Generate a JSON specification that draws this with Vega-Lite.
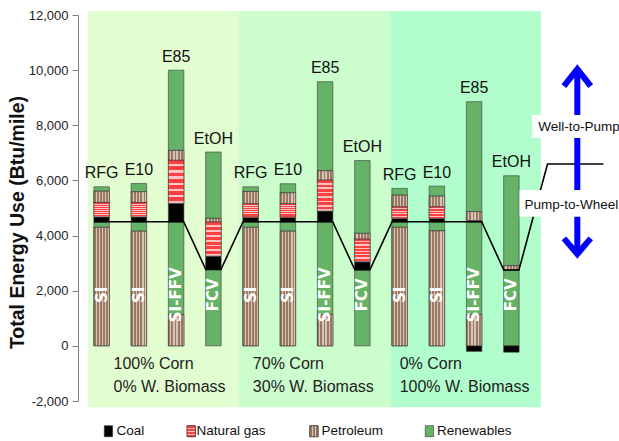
{
  "$schema": "https://vega.github.io/schema/vega-lite/v6.json",
  "width": 457,
  "height": 386,
  "autosize": "none",
  "padding": {"left": 78, "top": 15, "right": 84, "bottom": 40},
  "background": "white",
  "config": {"view": {"stroke": null}, "font": "Liberation Sans"},
  "datasets": {
    "segments": [
      {"bar": 1, "fuel": "RFG", "veh": "SI", "stage": "Pump-to-Wheel", "source": "Petroleum", "order": 1, "value": 4300},
      {"bar": 1, "fuel": "RFG", "veh": "SI", "stage": "Pump-to-Wheel", "source": "Renewables", "order": 2, "value": 200},
      {"bar": 1, "fuel": "RFG", "veh": "SI", "stage": "Well-to-Pump", "source": "Coal", "order": 3, "value": 180},
      {"bar": 1, "fuel": "RFG", "veh": "SI", "stage": "Well-to-Pump", "source": "Natural gas", "order": 4, "value": 520},
      {"bar": 1, "fuel": "RFG", "veh": "SI", "stage": "Well-to-Pump", "source": "Petroleum", "order": 5, "value": 410},
      {"bar": 1, "fuel": "RFG", "veh": "SI", "stage": "Well-to-Pump", "source": "Renewables", "order": 6, "value": 160},
      {"bar": 2, "fuel": "E10", "veh": "SI", "stage": "Pump-to-Wheel", "source": "Petroleum", "order": 1, "value": 4160},
      {"bar": 2, "fuel": "E10", "veh": "SI", "stage": "Pump-to-Wheel", "source": "Renewables", "order": 2, "value": 340},
      {"bar": 2, "fuel": "E10", "veh": "SI", "stage": "Well-to-Pump", "source": "Coal", "order": 3, "value": 180},
      {"bar": 2, "fuel": "E10", "veh": "SI", "stage": "Well-to-Pump", "source": "Natural gas", "order": 4, "value": 520},
      {"bar": 2, "fuel": "E10", "veh": "SI", "stage": "Well-to-Pump", "source": "Petroleum", "order": 5, "value": 390},
      {"bar": 2, "fuel": "E10", "veh": "SI", "stage": "Well-to-Pump", "source": "Renewables", "order": 6, "value": 300},
      {"bar": 3, "fuel": "E85", "veh": "SI-FFV", "stage": "Pump-to-Wheel", "source": "Petroleum", "order": 1, "value": 1140},
      {"bar": 3, "fuel": "E85", "veh": "SI-FFV", "stage": "Pump-to-Wheel", "source": "Renewables", "order": 2, "value": 3360},
      {"bar": 3, "fuel": "E85", "veh": "SI-FFV", "stage": "Well-to-Pump", "source": "Coal", "order": 3, "value": 670},
      {"bar": 3, "fuel": "E85", "veh": "SI-FFV", "stage": "Well-to-Pump", "source": "Natural gas", "order": 4, "value": 1560},
      {"bar": 3, "fuel": "E85", "veh": "SI-FFV", "stage": "Well-to-Pump", "source": "Petroleum", "order": 5, "value": 360},
      {"bar": 3, "fuel": "E85", "veh": "SI-FFV", "stage": "Well-to-Pump", "source": "Renewables", "order": 6, "value": 2910},
      {"bar": 4, "fuel": "EtOH", "veh": "FCV", "stage": "Pump-to-Wheel", "source": "Renewables", "order": 2, "value": 2770},
      {"bar": 4, "fuel": "EtOH", "veh": "FCV", "stage": "Well-to-Pump", "source": "Coal", "order": 3, "value": 485},
      {"bar": 4, "fuel": "EtOH", "veh": "FCV", "stage": "Well-to-Pump", "source": "Natural gas", "order": 4, "value": 1235},
      {"bar": 4, "fuel": "EtOH", "veh": "FCV", "stage": "Well-to-Pump", "source": "Petroleum", "order": 5, "value": 135},
      {"bar": 4, "fuel": "EtOH", "veh": "FCV", "stage": "Well-to-Pump", "source": "Renewables", "order": 6, "value": 2405},
      {"bar": 5, "fuel": "RFG", "veh": "SI", "stage": "Pump-to-Wheel", "source": "Petroleum", "order": 1, "value": 4300},
      {"bar": 5, "fuel": "RFG", "veh": "SI", "stage": "Pump-to-Wheel", "source": "Renewables", "order": 2, "value": 200},
      {"bar": 5, "fuel": "RFG", "veh": "SI", "stage": "Well-to-Pump", "source": "Coal", "order": 3, "value": 160},
      {"bar": 5, "fuel": "RFG", "veh": "SI", "stage": "Well-to-Pump", "source": "Natural gas", "order": 4, "value": 490},
      {"bar": 5, "fuel": "RFG", "veh": "SI", "stage": "Well-to-Pump", "source": "Petroleum", "order": 5, "value": 450},
      {"bar": 5, "fuel": "RFG", "veh": "SI", "stage": "Well-to-Pump", "source": "Renewables", "order": 6, "value": 170},
      {"bar": 6, "fuel": "E10", "veh": "SI", "stage": "Pump-to-Wheel", "source": "Petroleum", "order": 1, "value": 4160},
      {"bar": 6, "fuel": "E10", "veh": "SI", "stage": "Pump-to-Wheel", "source": "Renewables", "order": 2, "value": 340},
      {"bar": 6, "fuel": "E10", "veh": "SI", "stage": "Well-to-Pump", "source": "Coal", "order": 3, "value": 160},
      {"bar": 6, "fuel": "E10", "veh": "SI", "stage": "Well-to-Pump", "source": "Natural gas", "order": 4, "value": 490},
      {"bar": 6, "fuel": "E10", "veh": "SI", "stage": "Well-to-Pump", "source": "Petroleum", "order": 5, "value": 400},
      {"bar": 6, "fuel": "E10", "veh": "SI", "stage": "Well-to-Pump", "source": "Renewables", "order": 6, "value": 330},
      {"bar": 7, "fuel": "E85", "veh": "SI-FFV", "stage": "Pump-to-Wheel", "source": "Petroleum", "order": 1, "value": 1140},
      {"bar": 7, "fuel": "E85", "veh": "SI-FFV", "stage": "Pump-to-Wheel", "source": "Renewables", "order": 2, "value": 3360},
      {"bar": 7, "fuel": "E85", "veh": "SI-FFV", "stage": "Well-to-Pump", "source": "Coal", "order": 3, "value": 390},
      {"bar": 7, "fuel": "E85", "veh": "SI-FFV", "stage": "Well-to-Pump", "source": "Natural gas", "order": 4, "value": 1120},
      {"bar": 7, "fuel": "E85", "veh": "SI-FFV", "stage": "Well-to-Pump", "source": "Petroleum", "order": 5, "value": 340},
      {"bar": 7, "fuel": "E85", "veh": "SI-FFV", "stage": "Well-to-Pump", "source": "Renewables", "order": 6, "value": 3230},
      {"bar": 8, "fuel": "EtOH", "veh": "FCV", "stage": "Pump-to-Wheel", "source": "Renewables", "order": 2, "value": 2760},
      {"bar": 8, "fuel": "EtOH", "veh": "FCV", "stage": "Well-to-Pump", "source": "Coal", "order": 3, "value": 290},
      {"bar": 8, "fuel": "EtOH", "veh": "FCV", "stage": "Well-to-Pump", "source": "Natural gas", "order": 4, "value": 820},
      {"bar": 8, "fuel": "EtOH", "veh": "FCV", "stage": "Well-to-Pump", "source": "Petroleum", "order": 5, "value": 210},
      {"bar": 8, "fuel": "EtOH", "veh": "FCV", "stage": "Well-to-Pump", "source": "Renewables", "order": 6, "value": 2640},
      {"bar": 9, "fuel": "RFG", "veh": "SI", "stage": "Pump-to-Wheel", "source": "Petroleum", "order": 1, "value": 4300},
      {"bar": 9, "fuel": "RFG", "veh": "SI", "stage": "Pump-to-Wheel", "source": "Renewables", "order": 2, "value": 200},
      {"bar": 9, "fuel": "RFG", "veh": "SI", "stage": "Well-to-Pump", "source": "Coal", "order": 3, "value": 120},
      {"bar": 9, "fuel": "RFG", "veh": "SI", "stage": "Well-to-Pump", "source": "Natural gas", "order": 4, "value": 420},
      {"bar": 9, "fuel": "RFG", "veh": "SI", "stage": "Well-to-Pump", "source": "Petroleum", "order": 5, "value": 425},
      {"bar": 9, "fuel": "RFG", "veh": "SI", "stage": "Well-to-Pump", "source": "Renewables", "order": 6, "value": 245},
      {"bar": 10, "fuel": "E10", "veh": "SI", "stage": "Pump-to-Wheel", "source": "Petroleum", "order": 1, "value": 4170},
      {"bar": 10, "fuel": "E10", "veh": "SI", "stage": "Pump-to-Wheel", "source": "Renewables", "order": 2, "value": 330},
      {"bar": 10, "fuel": "E10", "veh": "SI", "stage": "Well-to-Pump", "source": "Coal", "order": 3, "value": 120},
      {"bar": 10, "fuel": "E10", "veh": "SI", "stage": "Well-to-Pump", "source": "Natural gas", "order": 4, "value": 420},
      {"bar": 10, "fuel": "E10", "veh": "SI", "stage": "Well-to-Pump", "source": "Petroleum", "order": 5, "value": 390},
      {"bar": 10, "fuel": "E10", "veh": "SI", "stage": "Well-to-Pump", "source": "Renewables", "order": 6, "value": 365},
      {"bar": 11, "fuel": "E85", "veh": "SI-FFV", "stage": "Pump-to-Wheel", "source": "Petroleum", "order": 1, "value": 1140},
      {"bar": 11, "fuel": "E85", "veh": "SI-FFV", "stage": "Pump-to-Wheel", "source": "Renewables", "order": 2, "value": 3360},
      {"bar": 11, "fuel": "E85", "veh": "SI-FFV", "stage": "Well-to-Pump", "source": "Coal", "order": 3, "value": -200},
      {"bar": 11, "fuel": "E85", "veh": "SI-FFV", "stage": "Well-to-Pump", "source": "Natural gas", "order": 4, "value": 40},
      {"bar": 11, "fuel": "E85", "veh": "SI-FFV", "stage": "Well-to-Pump", "source": "Petroleum", "order": 5, "value": 330},
      {"bar": 11, "fuel": "E85", "veh": "SI-FFV", "stage": "Well-to-Pump", "source": "Renewables", "order": 6, "value": 3985},
      {"bar": 12, "fuel": "EtOH", "veh": "FCV", "stage": "Pump-to-Wheel", "source": "Renewables", "order": 2, "value": 2750},
      {"bar": 12, "fuel": "EtOH", "veh": "FCV", "stage": "Well-to-Pump", "source": "Coal", "order": 3, "value": -230},
      {"bar": 12, "fuel": "EtOH", "veh": "FCV", "stage": "Well-to-Pump", "source": "Petroleum", "order": 5, "value": 160},
      {"bar": 12, "fuel": "EtOH", "veh": "FCV", "stage": "Well-to-Pump", "source": "Renewables", "order": 6, "value": 3260}
    ],
    "panels": [
      {"panel": "100% Corn", "x0": 0.63, "x1": 4.675, "y0": -2225, "y1": 12145},
      {"panel": "70% Corn", "x0": 4.675, "x1": 8.746, "y0": -2225, "y1": 12145},
      {"panel": "0% Corn", "x0": 8.746, "x1": 12.79, "y0": -2225, "y1": 12145}
    ],
    "groups": [
      {"gx": 1.32, "gy": -664, "txt": "100% Corn"},
      {"gx": 1.32, "gy": -1499, "txt": "0% W. Biomass"},
      {"gx": 5.06, "gy": -664, "txt": "70% Corn"},
      {"gx": 5.06, "gy": -1499, "txt": "30% W. Biomass"},
      {"gx": 9.0, "gy": -664, "txt": "0% Corn"},
      {"gx": 9.0, "gy": -1499, "txt": "100% W. Biomass"}
    ],
    "ptwline": [
      {"k": 1, "lx": 0.797, "ly": 4500},
      {"k": 2, "lx": 3.203, "ly": 4500},
      {"k": 3, "lx": 3.797, "ly": 2770},
      {"k": 4, "lx": 4.203, "ly": 2770},
      {"k": 5, "lx": 4.797, "ly": 4500},
      {"k": 6, "lx": 7.203, "ly": 4500},
      {"k": 7, "lx": 7.797, "ly": 2760},
      {"k": 8, "lx": 8.203, "ly": 2760},
      {"k": 9, "lx": 8.797, "ly": 4500},
      {"k": 10, "lx": 11.203, "ly": 4500},
      {"k": 11, "lx": 11.797, "ly": 2750},
      {"k": 12, "lx": 12.203, "ly": 2750},
      {"k": 13, "lx": 12.97, "ly": 6594},
      {"k": 14, "lx": 14.47, "ly": 6594}
    ],
    "arrows": [
      {"seg": "shaft", "k": 1, "ax": 13.77, "ay": 10040},
      {"seg": "shaft", "k": 2, "ax": 13.77, "ay": 3330},
      {"seg": "up", "k": 1, "ax": 13.41, "ay": 9420},
      {"seg": "up", "k": 2, "ax": 13.77, "ay": 10040},
      {"seg": "up", "k": 3, "ax": 14.13, "ay": 9420},
      {"seg": "down", "k": 1, "ax": 13.41, "ay": 3900},
      {"seg": "down", "k": 2, "ax": 13.77, "ay": 3330},
      {"seg": "down", "k": 3, "ax": 14.13, "ay": 3900}
    ],
    "notes": [
      {"txt": "Well-to-Pump", "bx0": 12.56, "bx1": 14.9, "by0": 7540, "by1": 8370, "tx": 12.72, "ty": 7937},
      {"txt": "Pump-to-Wheel", "bx0": 12.22, "bx1": 14.9, "by0": 4680, "by1": 5650, "tx": 12.35, "ty": 5106}
    ],
    "legendrows": [
      {"source": "Coal", "sx": 1.183, "tx": 1.40},
      {"source": "Natural gas", "sx": 3.405, "tx": 3.547},
      {"source": "Petroleum", "sx": 6.70, "tx": 6.90},
      {"source": "Renewables", "sx": 9.80, "tx": 10.006}
    ]
  },
  "layer": [
    {
      "data": {"name": "panels"},
      "mark": {"type": "rect"},
      "encoding": {
        "x": {"field": "x0", "type": "quantitative", "scale": {"domain": [0.5, 12.5], "nice": false, "zero": false}, "axis": null},
        "x2": {"field": "x1"},
        "y": {"field": "y0", "type": "quantitative", "scale": {"domain": [-2000, 12000], "nice": false, "zero": false},
          "axis": {
            "values": [-2000, 0, 2000, 4000, 6000, 8000, 10000, 12000],
            "labelExpr": "replace(format(datum.value, ',d'), '\u2212', '-')",
            "grid": false,
            "domainColor": "#808080",
            "domainWidth": 1,
            "tickColor": "#808080",
            "tickSize": 6,
            "labelFontSize": 13,
            "labelFont": "Liberation Sans",
            "labelColor": "#222222",
            "labelPadding": 4,
            "title": "Total Energy Use (Btu/mile)",
            "titleFont": "Liberation Sans",
            "titleFontSize": 19.5,
            "titleFontWeight": "bold",
            "titleColor": "#111111",
            "titleAngle": 270,
            "titleAlign": "center",
            "titleBaseline": "middle",
            "titleX": -61,
            "titleY": 207
          }
        },
        "y2": {"field": "y1"},
        "fill": {"field": "panel", "type": "nominal", "scale": {"domain": ["100% Corn", "70% Corn", "0% Corn"], "range": ["#e2fdd0", "#ccfdcc", "#b1fdcc"]}, "legend": null}
      }
    },
    {
      "mark": {"type": "rule", "color": "#808080", "strokeWidth": 1.5},
      "encoding": {"y": {"datum": 0, "type": "quantitative", "scale": {"domain": [-2000, 12000], "nice": false, "zero": false}}}
    },
    {
      "data": {"name": "segments"},
      "transform": [
        {"stack": "value", "groupby": ["bar"], "sort": [{"field": "order", "order": "ascending"}], "as": ["v0", "v1"]}
      ],
      "layer": [
        {
          "mark": {"type": "bar", "width": 15.5, "stroke": "#3a3a3a", "strokeWidth": 0.6},
          "encoding": {
            "x": {"field": "bar", "type": "quantitative", "scale": {"domain": [0.5, 12.5], "nice": false, "zero": false}},
            "y": {"field": "v1", "type": "quantitative", "scale": {"domain": [-2000, 12000], "nice": false, "zero": false}},
            "y2": {"field": "v0"},
            "color": {
              "field": "source", "type": "nominal",
              "scale": {"domain": ["Coal", "Natural gas", "Petroleum", "Renewables"], "range": ["#000000", "#ff6a6a", "#a88a76", "#66b266"]},
              "legend": null
            }
          }
        },
        {
          "transform": [{"filter": "datum.source === 'Petroleum'"}],
          "mark": {
            "type": "bar", "width": 15.5, "stroke": "#3a3a3a", "strokeWidth": 0.6,
            "color": {"gradient": "linear", "x1": 0, "y1": 0, "x2": 1, "y2": 0, "stops": [
              {"offset": 0, "color": "#9a7a64"}, {"offset": 0.12, "color": "#9a7a64"}, {"offset": 0.12, "color": "#d8c4b4"}, {"offset": 0.2, "color": "#d8c4b4"},
              {"offset": 0.2, "color": "#9a7a64"}, {"offset": 0.32, "color": "#9a7a64"}, {"offset": 0.32, "color": "#d8c4b4"}, {"offset": 0.4, "color": "#d8c4b4"},
              {"offset": 0.4, "color": "#9a7a64"}, {"offset": 0.52, "color": "#9a7a64"}, {"offset": 0.52, "color": "#d8c4b4"}, {"offset": 0.6, "color": "#d8c4b4"},
              {"offset": 0.6, "color": "#9a7a64"}, {"offset": 0.72, "color": "#9a7a64"}, {"offset": 0.72, "color": "#d8c4b4"}, {"offset": 0.8, "color": "#d8c4b4"},
              {"offset": 0.8, "color": "#9a7a64"}, {"offset": 0.92, "color": "#9a7a64"}, {"offset": 0.92, "color": "#d8c4b4"}, {"offset": 1, "color": "#d8c4b4"}
            ]}
          },
          "encoding": {
            "x": {"field": "bar", "type": "quantitative", "scale": {"domain": [0.5, 12.5], "nice": false, "zero": false}},
            "y": {"field": "v1", "type": "quantitative", "scale": {"domain": [-2000, 12000], "nice": false, "zero": false}},
            "y2": {"field": "v0"}
          }
        },
        {
          "transform": [{"filter": "datum.source === 'Natural gas'"}],
          "mark": {
            "type": "bar", "width": 15.5, "stroke": "#3a3a3a", "strokeWidth": 0.6,
            "color": {"gradient": "linear", "x1": 0, "y1": 0, "x2": 0, "y2": 1, "stops": [
              {"offset": 0, "color": "#ff4040"}, {"offset": 0.09, "color": "#ff4040"}, {"offset": 0.09, "color": "#ffc4c4"}, {"offset": 0.143, "color": "#ffc4c4"},
              {"offset": 0.143, "color": "#ff4040"}, {"offset": 0.233, "color": "#ff4040"}, {"offset": 0.233, "color": "#ffc4c4"}, {"offset": 0.286, "color": "#ffc4c4"},
              {"offset": 0.286, "color": "#ff4040"}, {"offset": 0.376, "color": "#ff4040"}, {"offset": 0.376, "color": "#ffc4c4"}, {"offset": 0.429, "color": "#ffc4c4"},
              {"offset": 0.429, "color": "#ff4040"}, {"offset": 0.519, "color": "#ff4040"}, {"offset": 0.519, "color": "#ffc4c4"}, {"offset": 0.571, "color": "#ffc4c4"},
              {"offset": 0.571, "color": "#ff4040"}, {"offset": 0.661, "color": "#ff4040"}, {"offset": 0.661, "color": "#ffc4c4"}, {"offset": 0.714, "color": "#ffc4c4"},
              {"offset": 0.714, "color": "#ff4040"}, {"offset": 0.804, "color": "#ff4040"}, {"offset": 0.804, "color": "#ffc4c4"}, {"offset": 0.857, "color": "#ffc4c4"},
              {"offset": 0.857, "color": "#ff4040"}, {"offset": 0.947, "color": "#ff4040"}, {"offset": 0.947, "color": "#ffc4c4"}, {"offset": 1, "color": "#ffc4c4"}
            ]}
          },
          "encoding": {
            "x": {"field": "bar", "type": "quantitative", "scale": {"domain": [0.5, 12.5], "nice": false, "zero": false}},
            "y": {"field": "v1", "type": "quantitative", "scale": {"domain": [-2000, 12000], "nice": false, "zero": false}},
            "y2": {"field": "v0"}
          }
        },
        {
          "transform": [{"aggregate": [{"op": "max", "field": "v1", "as": "top"}], "groupby": ["bar", "fuel"]}],
          "mark": {"type": "text", "fontSize": 16, "font": "Liberation Sans", "color": "#111111", "baseline": "alphabetic", "align": "center", "dy": -8.5},
          "encoding": {
            "x": {"field": "bar", "type": "quantitative", "scale": {"domain": [0.5, 12.5], "nice": false, "zero": false}},
            "y": {"field": "top", "type": "quantitative", "scale": {"domain": [-2000, 12000], "nice": false, "zero": false}},
            "text": {"field": "fuel"}
          }
        },
        {
          "transform": [{"aggregate": [{"op": "count", "as": "n"}], "groupby": ["bar", "veh"]}],
          "mark": {"type": "text", "fontSize": 15, "font": "DejaVu Sans", "fontWeight": "bold", "color": "white", "angle": 270, "align": "center", "baseline": "middle"},
          "encoding": {
            "x": {"field": "bar", "type": "quantitative", "scale": {"domain": [0.5, 12.5], "nice": false, "zero": false}},
            "y": {"datum": 1850, "type": "quantitative", "scale": {"domain": [-2000, 12000], "nice": false, "zero": false}},
            "text": {"field": "veh"}
          }
        }
      ]
    },
    {
      "data": {"name": "ptwline"},
      "mark": {"type": "line", "color": "#000000", "strokeWidth": 1.6},
      "encoding": {
        "x": {"field": "lx", "type": "quantitative", "scale": {"domain": [0.5, 12.5], "nice": false, "zero": false}},
        "y": {"field": "ly", "type": "quantitative", "scale": {"domain": [-2000, 12000], "nice": false, "zero": false}},
        "order": {"field": "k"}
      }
    },
    {
      "data": {"name": "arrows"},
      "mark": {"type": "line", "color": "#0000ff", "strokeWidth": 6, "strokeJoin": "miter", "strokeCap": "butt"},
      "encoding": {
        "x": {"field": "ax", "type": "quantitative", "scale": {"domain": [0.5, 12.5], "nice": false, "zero": false}},
        "y": {"field": "ay", "type": "quantitative", "scale": {"domain": [-2000, 12000], "nice": false, "zero": false}},
        "detail": {"field": "seg"},
        "order": {"field": "k"}
      }
    },
    {
      "data": {"name": "notes"},
      "layer": [
        {
          "mark": {"type": "rect", "color": "white"},
          "encoding": {
            "x": {"field": "bx0", "type": "quantitative", "scale": {"domain": [0.5, 12.5], "nice": false, "zero": false}},
            "x2": {"field": "bx1"},
            "y": {"field": "by0", "type": "quantitative", "scale": {"domain": [-2000, 12000], "nice": false, "zero": false}},
            "y2": {"field": "by1"}
          }
        },
        {
          "mark": {"type": "text", "fontSize": 13.5, "font": "Liberation Sans", "color": "#111111", "align": "left", "baseline": "middle"},
          "encoding": {
            "x": {"field": "tx", "type": "quantitative", "scale": {"domain": [0.5, 12.5], "nice": false, "zero": false}},
            "y": {"field": "ty", "type": "quantitative", "scale": {"domain": [-2000, 12000], "nice": false, "zero": false}},
            "text": {"field": "txt"}
          }
        }
      ]
    },
    {
      "data": {"name": "groups"},
      "mark": {"type": "text", "fontSize": 16, "font": "Liberation Sans", "color": "#222222", "align": "left", "baseline": "middle"},
      "encoding": {
        "x": {"field": "gx", "type": "quantitative", "scale": {"domain": [0.5, 12.5], "nice": false, "zero": false}},
        "y": {"field": "gy", "type": "quantitative", "scale": {"domain": [-2000, 12000], "nice": false, "zero": false}},
        "text": {"field": "txt"}
      }
    },
    {
      "data": {"name": "legendrows"},
      "layer": [
        {
          "mark": {"type": "bar", "width": 8.3, "stroke": "#333333", "strokeWidth": 0.6},
          "encoding": {
            "x": {"field": "sx", "type": "quantitative", "scale": {"domain": [0.5, 12.5], "nice": false, "zero": false}},
            "y": {"datum": -2896, "type": "quantitative", "scale": {"domain": [-2000, 12000], "nice": false, "zero": false}},
            "y2": {"datum": -3296},
            "color": {"field": "source", "type": "nominal", "legend": null}
          }
        },
        {
          "transform": [{"filter": "datum.source === 'Petroleum'"}],
          "mark": {
            "type": "bar", "width": 8.3, "stroke": "#333333", "strokeWidth": 0.6,
            "color": {"gradient": "linear", "x1": 0, "y1": 0, "x2": 1, "y2": 0, "stops": [
              {"offset": 0, "color": "#9a7a64"}, {"offset": 0.22, "color": "#9a7a64"}, {"offset": 0.22, "color": "#d8c4b4"}, {"offset": 0.36, "color": "#d8c4b4"},
              {"offset": 0.36, "color": "#9a7a64"}, {"offset": 0.58, "color": "#9a7a64"}, {"offset": 0.58, "color": "#d8c4b4"}, {"offset": 0.72, "color": "#d8c4b4"},
              {"offset": 0.72, "color": "#9a7a64"}, {"offset": 1, "color": "#9a7a64"}
            ]}
          },
          "encoding": {
            "x": {"field": "sx", "type": "quantitative", "scale": {"domain": [0.5, 12.5], "nice": false, "zero": false}},
            "y": {"datum": -2896, "type": "quantitative", "scale": {"domain": [-2000, 12000], "nice": false, "zero": false}},
            "y2": {"datum": -3296}
          }
        },
        {
          "transform": [{"filter": "datum.source === 'Natural gas'"}],
          "mark": {
            "type": "bar", "width": 8.3, "stroke": "#333333", "strokeWidth": 0.6,
            "color": {"gradient": "linear", "x1": 0, "y1": 0, "x2": 0, "y2": 1, "stops": [
              {"offset": 0, "color": "#ff4040"}, {"offset": 0.17, "color": "#ff4040"}, {"offset": 0.17, "color": "#ffc4c4"}, {"offset": 0.28, "color": "#ffc4c4"},
              {"offset": 0.28, "color": "#ff4040"}, {"offset": 0.45, "color": "#ff4040"}, {"offset": 0.45, "color": "#ffc4c4"}, {"offset": 0.56, "color": "#ffc4c4"},
              {"offset": 0.56, "color": "#ff4040"}, {"offset": 0.73, "color": "#ff4040"}, {"offset": 0.73, "color": "#ffc4c4"}, {"offset": 0.84, "color": "#ffc4c4"},
              {"offset": 0.84, "color": "#ff4040"}, {"offset": 1, "color": "#ff4040"}
            ]}
          },
          "encoding": {
            "x": {"field": "sx", "type": "quantitative", "scale": {"domain": [0.5, 12.5], "nice": false, "zero": false}},
            "y": {"datum": -2896, "type": "quantitative", "scale": {"domain": [-2000, 12000], "nice": false, "zero": false}},
            "y2": {"datum": -3296}
          }
        },
        {
          "mark": {"type": "text", "fontSize": 13.5, "font": "Liberation Sans", "color": "#111111", "align": "left", "baseline": "middle"},
          "encoding": {
            "x": {"field": "tx", "type": "quantitative", "scale": {"domain": [0.5, 12.5], "nice": false, "zero": false}},
            "y": {"datum": -3096, "type": "quantitative", "scale": {"domain": [-2000, 12000], "nice": false, "zero": false}},
            "text": {"field": "source"}
          }
        }
      ]
    }
  ]
}
